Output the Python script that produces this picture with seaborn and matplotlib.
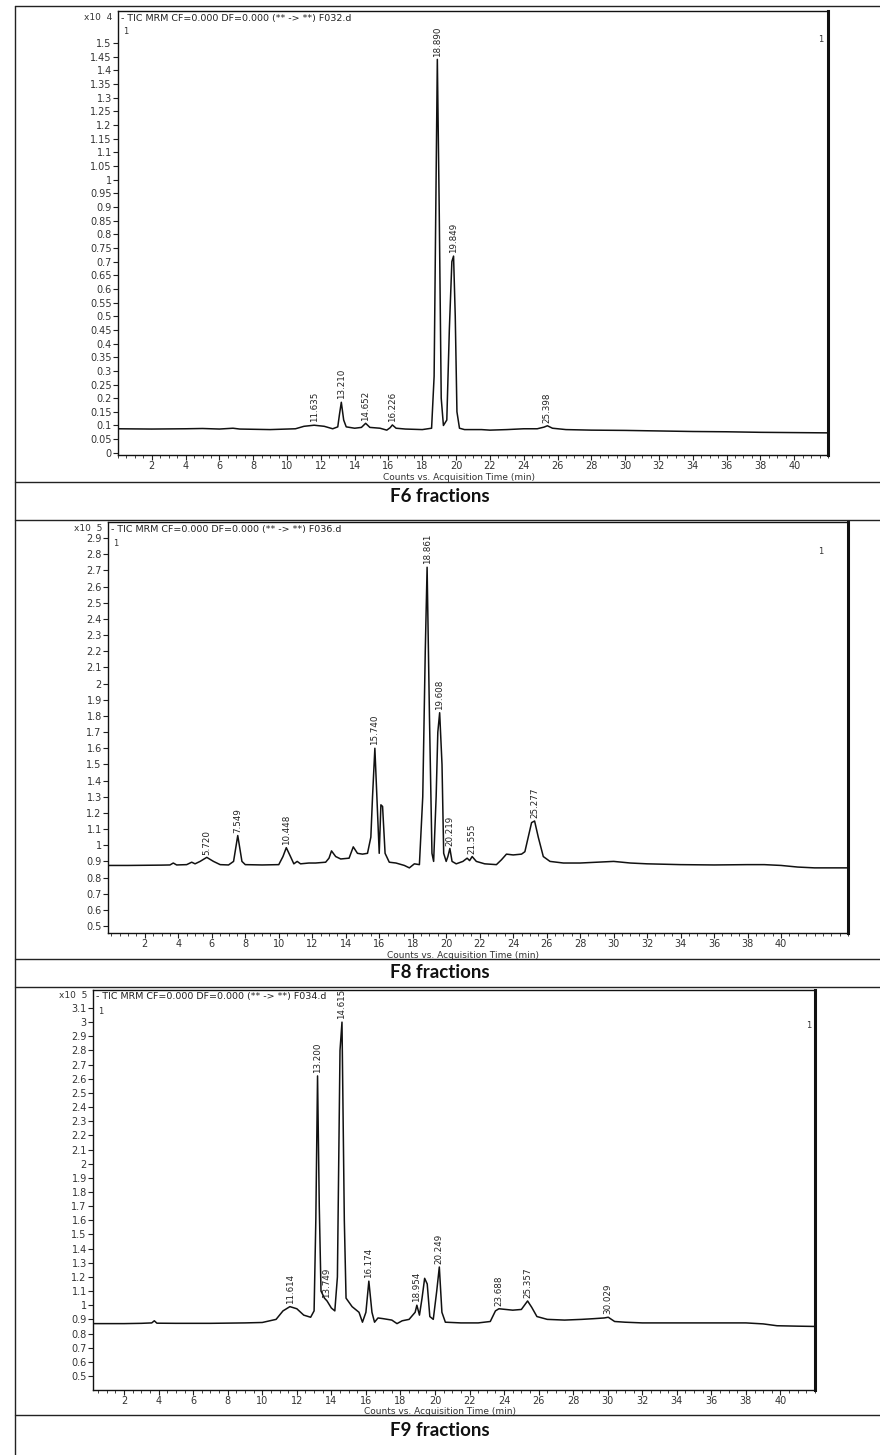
import numpy as np
import pandas as pd
import matplotlib
matplotlib.use("Agg")
import matplotlib.pyplot as plt
from matplotlib.lines import Line2D
from matplotlib.ticker import MultipleLocator, FuncFormatter
import seaborn as sns

# ---------------- data ----------------
f6_time = [0.0, 2, 4, 5, 6, 6.8, 7.2, 9, 10.5, 11.0, 11.6, 12.2, 12.7, 13.0, 13.1, 13.21, 13.35, 13.5,
           14.0, 14.4, 14.65, 14.9, 15.5, 15.9, 16.1, 16.23, 16.45, 17.0, 18.0, 18.55, 18.7, 18.8, 18.89,
           19.0, 19.12, 19.25, 19.45, 19.6, 19.75, 19.85, 19.95, 20.05, 20.2, 20.5, 21.5, 22.0, 23.0, 24.0,
           24.8, 25.2, 25.4, 25.7, 26.5, 28, 30, 32, 34, 36, 38, 40, 42]
f6_counts = [0.088, 0.087, 0.088, 0.089, 0.087, 0.090, 0.087, 0.085, 0.088, 0.097, 0.101, 0.097, 0.088,
             0.095, 0.140, 0.185, 0.120, 0.095, 0.090, 0.093, 0.108, 0.093, 0.090, 0.083, 0.092, 0.102,
             0.090, 0.087, 0.085, 0.090, 0.280, 0.900, 1.440, 0.900, 0.200, 0.100, 0.120, 0.450, 0.700,
             0.720, 0.500, 0.150, 0.090, 0.085, 0.085, 0.083, 0.085, 0.088, 0.088, 0.094, 0.099, 0.090,
             0.085, 0.083, 0.082, 0.080, 0.078, 0.077, 0.075, 0.074, 0.073]
f6_peak_times = [11.635, 13.210, 14.652, 16.226, 18.890, 19.849, 25.398]
f6_peak_counts = [0.101, 0.185, 0.108, 0.102, 1.440, 0.720, 0.099]
f6_peak_labels = ["11.635", "13.210", "14.652", "16.226", "18.890", "19.849", "25.398"]

f8_time = [-0.2, 1, 2, 3, 3.5, 3.7, 3.9, 4.5, 4.8, 5.0, 5.3, 5.7, 6.1, 6.5, 7.0, 7.3, 7.55, 7.8, 8.0,
           9.0, 10.0, 10.25, 10.45, 10.7, 10.9, 11.1, 11.3, 11.8, 12.2, 12.8, 13.0, 13.15, 13.4, 13.7,
           14.2, 14.45, 14.7, 15.0, 15.3, 15.5, 15.6, 15.74, 15.9, 16.0, 16.1, 16.2, 16.35, 16.6, 17.0,
           17.5, 17.8, 18.1, 18.4, 18.6, 18.75, 18.86, 19.0, 19.15, 19.25, 19.4, 19.5, 19.61, 19.75,
           19.85, 20.0, 20.1, 20.22, 20.35, 20.6, 21.0, 21.25, 21.4, 21.55, 21.8, 22.3, 23.0, 23.3, 23.6,
           24.0, 24.5, 24.7, 24.9, 25.1, 25.28, 25.5, 25.8, 26.2, 27, 28, 29, 30, 31, 32, 34, 36, 38, 39,
           40, 41, 42, 44]
f8_counts = [0.875, 0.875, 0.876, 0.877, 0.878, 0.890, 0.878, 0.880, 0.895, 0.885, 0.900, 0.925, 0.900,
             0.880, 0.878, 0.900, 1.060, 0.900, 0.880, 0.878, 0.880, 0.930, 0.985, 0.930, 0.885, 0.900,
             0.885, 0.890, 0.890, 0.895, 0.920, 0.965, 0.930, 0.915, 0.920, 0.990, 0.950, 0.945, 0.950,
             1.050, 1.300, 1.600, 1.200, 0.950, 1.250, 1.240, 0.950, 0.895, 0.890, 0.875, 0.860, 0.885,
             0.880, 1.300, 2.200, 2.720, 1.800, 0.950, 0.900, 1.300, 1.700, 1.820, 1.500, 0.950, 0.900,
             0.930, 0.980, 0.900, 0.885, 0.900, 0.920, 0.905, 0.930, 0.900, 0.885, 0.880, 0.910, 0.945,
             0.940, 0.945, 0.960, 1.050, 1.140, 1.150, 1.050, 0.930, 0.900, 0.890, 0.890, 0.895, 0.900,
             0.890, 0.885, 0.880, 0.878, 0.880, 0.880, 0.875, 0.865, 0.860, 0.860]
f8_peak_times = [5.720, 7.549, 10.448, 15.740, 18.861, 19.608, 20.219, 21.555, 25.277]
f8_peak_counts = [0.925, 1.060, 0.985, 1.600, 2.720, 1.820, 0.980, 0.930, 1.150]
f8_peak_labels = ["5.720", "7.549", "10.448", "15.740", "18.861", "19.608", "20.219", "21.555", "25.277"]

f9_time = [0.2, 2, 3, 3.6, 3.75, 3.9, 5, 7, 9, 10, 10.8, 11.2, 11.6, 12.0, 12.4, 12.8, 13.0, 13.1, 13.2,
           13.3, 13.4, 13.6, 13.75, 14.0, 14.2, 14.35, 14.5, 14.615, 14.75, 14.85, 15.2, 15.6, 15.8, 16.0,
           16.17, 16.35, 16.5, 16.7, 17.0, 17.5, 17.8, 18.1, 18.5, 18.85, 18.95, 19.1, 19.25, 19.4, 19.55,
           19.7, 19.9, 20.1, 20.25, 20.4, 20.6, 21.5, 22.5, 23.2, 23.5, 23.7, 24.5, 25.0, 25.36, 25.6,
           25.9, 26.5, 27.5, 28.5, 29.2, 29.8, 30.03, 30.4, 31, 32, 34, 36, 38, 39, 39.8, 41, 42]
f9_counts = [0.870, 0.870, 0.872, 0.875, 0.890, 0.873, 0.872, 0.872, 0.875, 0.878, 0.900, 0.960, 0.990,
             0.975, 0.930, 0.915, 0.960, 1.600, 2.620, 1.700, 1.100, 1.050, 1.030, 0.980, 0.960, 1.200,
             2.800, 3.000, 1.600, 1.050, 0.990, 0.950, 0.880, 0.950, 1.170, 0.950, 0.880, 0.910, 0.905,
             0.895, 0.870, 0.890, 0.900, 0.950, 1.000, 0.930, 1.050, 1.190, 1.150, 0.920, 0.900, 1.100,
             1.270, 0.950, 0.880, 0.875, 0.875, 0.885, 0.960, 0.975, 0.965, 0.970, 1.030, 0.985, 0.920,
             0.900, 0.895, 0.900, 0.905, 0.910, 0.915, 0.885, 0.880, 0.875, 0.875, 0.875, 0.875, 0.868,
             0.855, 0.852, 0.850]
f9_peak_times = [11.614, 13.200, 13.749, 14.615, 16.174, 18.954, 20.249, 23.688, 25.357, 30.029]
f9_peak_counts = [0.990, 2.620, 1.030, 3.000, 1.170, 1.000, 1.270, 0.975, 1.030, 0.915]
f9_peak_labels = ["11.614", "13.200", "13.749", "14.615", "16.174", "18.954", "20.249", "23.688",
                  "25.357", "30.029"]

x_ticks = list(range(2, 41, 2))
titles = ["F6 fractions", "F8 fractions", "F9 fractions"]
headers = ["- TIC MRM CF=0.000 DF=0.000 (** -> **) F032.d",
           "- TIC MRM CF=0.000 DF=0.000 (** -> **) F036.d",
           "- TIC MRM CF=0.000 DF=0.000 (** -> **) F034.d"]
exponents = ["x10  4", "x10  5", "x10  5"]
x_label = "Counts vs. Acquisition Time (min)"

# ---------------- figure ----------------
sns.set_theme(style="white")
plt.rcParams["font.family"] = ["DejaVu Sans"]
W, H = 880, 1455
fig = plt.figure(figsize=(W / 100, H / 100), dpi=100)
fig.patch.set_facecolor("white")


def fx(px):
    return px / W


def fy(py):
    return 1 - py / H


panels = [
    dict(box=(118, 11, 828, 455), ylim=(-0.008, 1.617), ystep=0.05, ymin=0.0, ymax=1.5,
         xlim=(0, 42), t=f6_time, c=f6_counts, pt=f6_peak_times, pc=f6_peak_counts, pl=f6_peak_labels,
         one_r=(818, 40), cap=497),
    dict(box=(108, 522, 848, 933), ylim=(0.457, 3.0), ystep=0.1, ymin=0.5, ymax=2.9,
         xlim=(-0.2, 44), t=f8_time, c=f8_counts, pt=f8_peak_times, pc=f8_peak_counts, pl=f8_peak_labels,
         one_r=(818, 552), cap=973),
    dict(box=(93, 990, 815, 1390), ylim=(0.401, 3.227), ystep=0.1, ymin=0.5, ymax=3.1,
         xlim=(0.2, 42), t=f9_time, c=f9_counts, pt=f9_peak_times, pc=f9_peak_counts, pl=f9_peak_labels,
         one_r=(806, 1025), cap=1431),
]

tick_col = "#333333"
for i, p in enumerate(panels):
    l, t, r, b = p["box"]
    ax = fig.add_axes([fx(l), fy(b), (r - l) / W, (b - t) / H])
    df = pd.DataFrame({"time": p["t"], "counts": p["c"]})
    sns.lineplot(data=df, x="time", y="counts", ax=ax, color="#111111", lw=1.1,
                 estimator=None, sort=False)
    ax.set_xlim(*p["xlim"])
    ax.set_ylim(*p["ylim"])
    yt = np.round(np.arange(p["ymin"], p["ymax"] + 1e-9, p["ystep"]), 2)
    ax.set_yticks(yt)
    ax.yaxis.set_major_formatter(FuncFormatter(lambda v, pos: f"{v:g}"))
    ax.set_xticks(x_ticks)
    ax.xaxis.set_minor_locator(MultipleLocator(0.5))
    ax.tick_params(axis="both", which="major", direction="out", length=3.5, width=0.8,
                   labelsize=7, colors="#222222", labelcolor=tick_col, pad=1.0,
                   left=True, bottom=True)
    ax.tick_params(axis="x", which="minor", direction="out", length=2, width=0.6,
                   bottom=True, colors="#222222")
    ax.set_ylabel("")
    ax.set_xlabel(x_label, fontsize=6.5, color=tick_col)
    ax.xaxis.set_label_coords(0.48, -(17.5 / (b - t)))
    for side in ["left", "bottom", "top"]:
        ax.spines[side].set_color("#111111")
        ax.spines[side].set_linewidth(1.0)
        ax.spines[side].set_visible(True)
    ax.spines["right"].set_color("#111111")
    ax.spines["right"].set_linewidth(2.2)
    ax.spines["right"].set_visible(True)
    ax.grid(False)
    # peak labels
    for tt, cc, lab in zip(p["pt"], p["pc"], p["pl"]):
        ax.annotate(lab, xy=(tt, cc), xytext=(0, 2), textcoords="offset points",
                    rotation=90, ha="center", va="bottom", fontsize=6.3, color="#222222")
    # header texts
    fig.text(fx(l - 6), fy(t + 6), exponents[i], ha="right", va="center", fontsize=6.5,
             color=tick_col)
    fig.text(fx(l + 3), fy(t + 7), headers[i], ha="left", va="center", fontsize=6.8,
             color="#222222")
    fig.text(fx(l + 5), fy(t + 21), "1", ha="left", va="center", fontsize=6, color=tick_col)
    fig.text(fx(p["one_r"][0]), fy(p["one_r"][1]), "1", ha="left", va="center", fontsize=6,
             color=tick_col)
    # captions
    fig.text(fx(440), fy(p["cap"]), titles[i], ha="center", va="center", fontsize=13.5,
             fontweight="bold", family=["Lato", "DejaVu Sans"], color="#111111")

# table lines
for yy in [6, 482, 520, 959, 987, 1415]:
    fig.add_artist(Line2D([fx(15), fx(880)], [fy(yy), fy(yy)], color="#222222", lw=1.0))
fig.add_artist(Line2D([fx(15), fx(15)], [fy(6), fy(1455)], color="#222222", lw=1.0))

fig.savefig("out.png", dpi=100, facecolor="white")
